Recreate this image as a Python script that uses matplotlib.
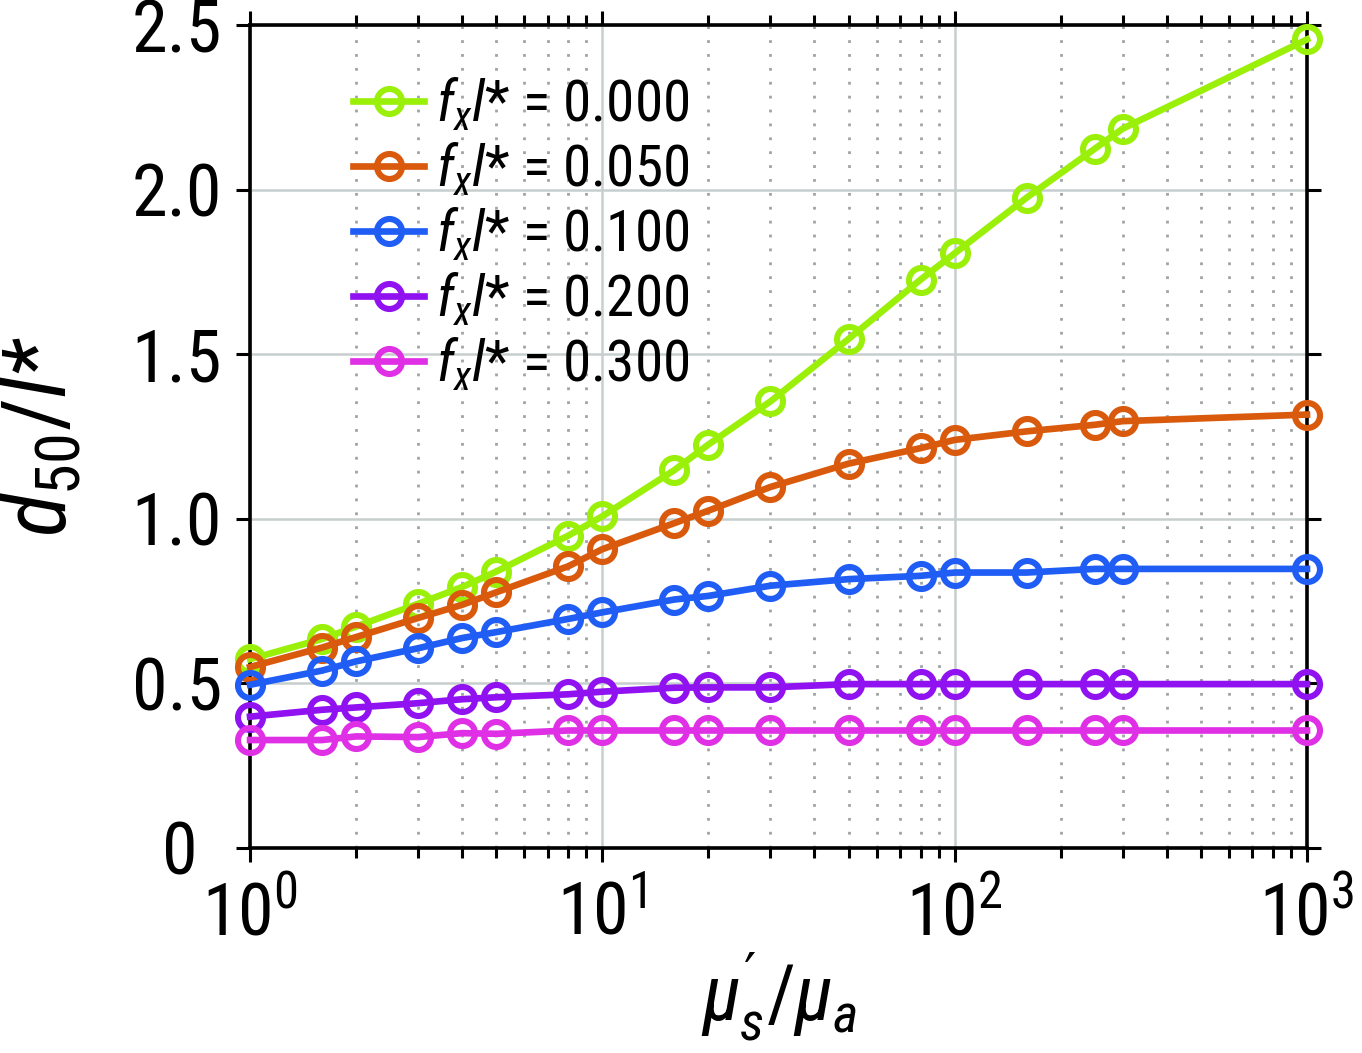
import matplotlib
matplotlib.use("Agg")
import matplotlib.pyplot as plt
import matplotlib.transforms as mtransforms
import numpy as np
from matplotlib import font_manager
from matplotlib.ticker import LogLocator, NullFormatter

# pick a narrow sans if one is around
installed = {f.name for f in font_manager.fontManager.ttflist}
font = 'DejaVu Sans'
for name in ['Liberation Sans Narrow', 'Roboto Condensed', 'Open Sans Condensed',
             'Noto Sans Condensed', 'DejaVu Sans Condensed', 'Roboto']:
    if name in installed:
        font = name
        break
narrow = 'Narrow' in font or 'Condensed' in font

plt.rcParams['font.family'] = [font, 'DejaVu Sans']
plt.rcParams['mathtext.fontset'] = 'custom'
plt.rcParams['mathtext.rm'] = font
plt.rcParams['mathtext.it'] = font + ':italic'
plt.rcParams['mathtext.sf'] = 'DejaVu Sans'
plt.rcParams['mathtext.default'] = 'it'

# data
ratio = [1, 1.6, 2, 3, 4, 5, 8, 10, 16, 20, 30, 50, 80, 100, 160, 250, 300, 1000]
fxl = [0.0, 0.05, 0.1, 0.2, 0.3]
d50_000 = [0.574, 0.635, 0.673, 0.742, 0.793, 0.840, 0.949, 1.008, 1.148, 1.226,
           1.357, 1.547, 1.727, 1.807, 1.976, 2.125, 2.186, 2.457]
d50_050 = [0.550, 0.609, 0.641, 0.699, 0.739, 0.777, 0.856, 0.908, 0.987, 1.025,
           1.097, 1.168, 1.215, 1.240, 1.266, 1.286, 1.297, 1.317]
d50_100 = [0.496, 0.539, 0.567, 0.607, 0.638, 0.656, 0.696, 0.716, 0.755, 0.766,
           0.797, 0.817, 0.827, 0.837, 0.837, 0.848, 0.848, 0.848]
d50_200 = [0.399, 0.420, 0.427, 0.440, 0.452, 0.458, 0.467, 0.475, 0.487, 0.488,
           0.488, 0.498, 0.498, 0.498, 0.498, 0.498, 0.498, 0.498]
d50_300 = [0.328, 0.328, 0.339, 0.337, 0.349, 0.347, 0.357, 0.357, 0.357, 0.357,
           0.357, 0.357, 0.357, 0.357, 0.357, 0.357, 0.357, 0.357]
series = [d50_000, d50_050, d50_100, d50_200, d50_300]
colors = ['#9bf00a', '#d95a0c', '#1f5df5', '#9012f0', '#e030e6']

y_ticks = [0, 0.5, 1.0, 1.5, 2.0, 2.5]
y_labels = ['0', '0.5', '1.0', '1.5', '2.0', '2.5']

fig = plt.figure(figsize=(13.62, 10.53), dpi=100)
ax = fig.add_axes([0.1836, 0.1947, 0.776, 0.7813])

for vals, f, c in zip(series, fxl, colors):
    ax.plot(ratio, vals, color=c, lw=4.8, marker='o', markersize=18,
            markerfacecolor='none', markeredgewidth=4.4,
            label=rf'$f_{{x}}l$* = {f:.3f}', clip_on=False, zorder=3)

ax.set_xscale('log')
ax.set_xlim(1, 1000)
ax.set_ylim(0, 2.5)
ax.set_yticks(y_ticks, y_labels)
ax.xaxis.set_minor_locator(LogLocator(base=10, subs=np.arange(2, 10)))
ax.xaxis.set_minor_formatter(NullFormatter())

ax.grid(which='major', color='#c6cece', lw=1.8, zorder=0)
ax.grid(which='minor', axis='x', color='#9ea3a3', lw=2.0, linestyle=(0, (1, 4)), zorder=0)
ax.set_axisbelow(True)

for s in ax.spines.values():
    s.set_linewidth(2.6)
tick_size = 52 if narrow else 44
ax.tick_params(which='both', direction='out', top=True, right=True, width=2.2,
               labelsize=tick_size)
ax.tick_params(axis='y', pad=10)
ax.tick_params(axis='x', pad=14)
ax.tick_params(which='major', length=10)
ax.tick_params(which='minor', length=7)

# the "0" label sits a bit further left in the original
zero = ax.yaxis.get_major_ticks()[0].label1
zero.set_transform(zero.get_transform() +
                   mtransforms.ScaledTranslation(-0.25, 0, fig.dpi_scale_trans))

ax.set_ylabel(r'$d_{\mathrm{50}}/l$*', fontsize=64, fontstyle='italic', labelpad=34)
ax.set_xlabel(r"$\mu^{\mathsf{\prime}}_{s}/\mu_{a}$", fontsize=56, labelpad=0)

leg_size = 41 if narrow else 36
leg = ax.legend(loc='upper left', bbox_to_anchor=(0.076, 0.966), frameon=False,
                fontsize=leg_size, handlelength=1.25, handletextpad=0.2,
                labelspacing=0.14, borderaxespad=0)

fig.savefig('out.png', dpi=100)
